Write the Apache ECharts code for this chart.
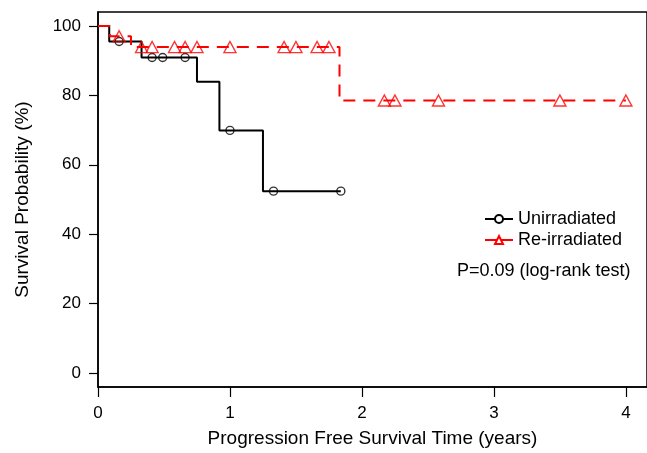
<!DOCTYPE html>
<html>
<head>
<meta charset="utf-8">
<script src="https://cdn.jsdelivr.net/npm/echarts@6/dist/echarts.min.js"></script>
<style>
  html, body { margin: 0; padding: 0; background: #fff; }
  #chart { width: 647px; height: 453px; }
</style>
</head>
<body>
<div id="chart"></div>
<script>
// Kaplan-Meier steps (time in years, survival in %)
const unirrTimes = [0, 0.085, 0.33, 0.75, 0.92, 1.25, 1.84];
const unirrSurv = [100, 95.5, 90.9, 83.9, 69.9, 52.4, 52.4];
const unirrCensor = [0.16, 0.41, 0.49, 0.66, 1.0, 1.33, 1.84];

const reirrTimes = [0, 0.09, 0.25, 1.83, 4.0];
const reirrSurv = [100, 97.0, 93.9, 78.5, 78.5];
const reirrCensor = [0.16, 0.33, 0.41, 0.58, 0.66, 0.75, 1.0, 1.41, 1.5, 1.66, 1.75, 2.17, 2.25, 2.58, 3.5, 4.0];

const xTicks = [0, 1, 2, 3, 4];
const yTicks = [0, 20, 40, 60, 80, 100];

const FONT = 'Liberation Sans';

// survival level of a step curve at time t
function survAt(times, surv, t){
    let s = surv[0];
    for (let i = 0; i < times.length; i++){
        if (times[i] <= t) s = surv[i];
    }
    return s;
}

const toPairs = (xs, ys) => xs.map((x, i) => [x, ys[i]]);
const censorPts = (cens, times, surv) => cens.map(t => [t, survAt(times, surv, t)]);

const chart = echarts.init(document.getElementById('chart'));

chart.setOption({
    animation: false,
    backgroundColor: '#fff',
    textStyle: { fontFamily: FONT },
    grid: {
        left: 98, right: -3, top: 12, bottom: 61,
        show: true,
        borderColor: '#000',
        borderWidth: 1.5,
        backgroundColor: 'transparent'
    },
    xAxis: {
        type: 'value',
        min: 0,
        max: 4.16,
        name: 'Progression Free Survival Time (years)',
        nameLocation: 'middle',
        nameGap: 42,
        nameTextStyle: { fontSize: 19, color: '#000', fontFamily: FONT },
        axisLine: { show: true, onZero: false, lineStyle: { color: '#000', width: 1.5 } },
        axisTick: { show: true, customValues: xTicks, length: 10, lineStyle: { color: '#000', width: 1.2 } },
        axisLabel: { customValues: xTicks, fontSize: 17, color: '#000', margin: 18, fontFamily: FONT },
        splitLine: { show: false }
    },
    yAxis: {
        type: 'value',
        min: -4,
        max: 104,
        name: 'Survival Probability (%)',
        nameLocation: 'middle',
        nameGap: 66,
        nameTextStyle: { fontSize: 19, color: '#000', fontFamily: FONT },
        axisLine: { show: true, onZero: false, lineStyle: { color: '#000', width: 1.5 } },
        axisTick: { show: true, customValues: yTicks, length: 9, lineStyle: { color: '#000', width: 1.2 } },
        axisLabel: { customValues: yTicks, fontSize: 17, color: '#000', margin: 17, fontFamily: FONT },
        splitLine: { show: false }
    },
    legend: {
        data: ['Unirradiated', 'Re-irradiated'],
        orient: 'vertical',
        left: 484,
        top: 210,
        padding: 0,
        itemWidth: 28,
        itemHeight: 10,
        itemGap: 3,
        lineStyle: { type: 'solid' },
        textStyle: { fontSize: 18, color: '#000', fontFamily: FONT }
    },
    graphic: [{
        type: 'text',
        left: 457,
        top: 262,
        style: { text: 'P=0.09 (log-rank test)', fontSize: 18, fill: '#000', fontFamily: FONT }
    }],
    series: [
        {
            name: 'Unirradiated',
            type: 'line',
            step: 'end',
            data: toPairs(unirrTimes, unirrSurv),
            showSymbol: false,
            symbol: 'emptyCircle',
            symbolSize: 7,
            itemStyle: { color: '#000', borderWidth: 1.2 },
            lineStyle: { color: '#000', width: 2 },
            z: 2
        },
        {
            name: 'Unirradiated censored',
            type: 'scatter',
            data: censorPts(unirrCensor, unirrTimes, unirrSurv),
            symbol: 'circle',
            symbolSize: 8,
            itemStyle: { color: 'transparent', borderColor: '#000', borderWidth: 1.4 },
            z: 3
        },
        {
            name: 'Re-irradiated',
            type: 'line',
            step: 'end',
            data: toPairs(reirrTimes, reirrSurv),
            showSymbol: false,
            symbol: 'emptyTriangle',
            symbolSize: 10,
            itemStyle: { color: '#ff0000', borderWidth: 1.2 },
            lineStyle: { color: '#ff0000', width: 2, type: [12, 8] },
            z: 4
        },
        {
            name: 'Re-irradiated censored',
            type: 'scatter',
            data: censorPts(reirrCensor, reirrTimes, reirrSurv),
            symbol: 'triangle',
            symbolSize: [12, 11],
            itemStyle: { color: 'transparent', borderColor: '#ff0000', borderWidth: 1.4 },
            z: 5
        }
    ]
});
</script>
</body>
</html>
